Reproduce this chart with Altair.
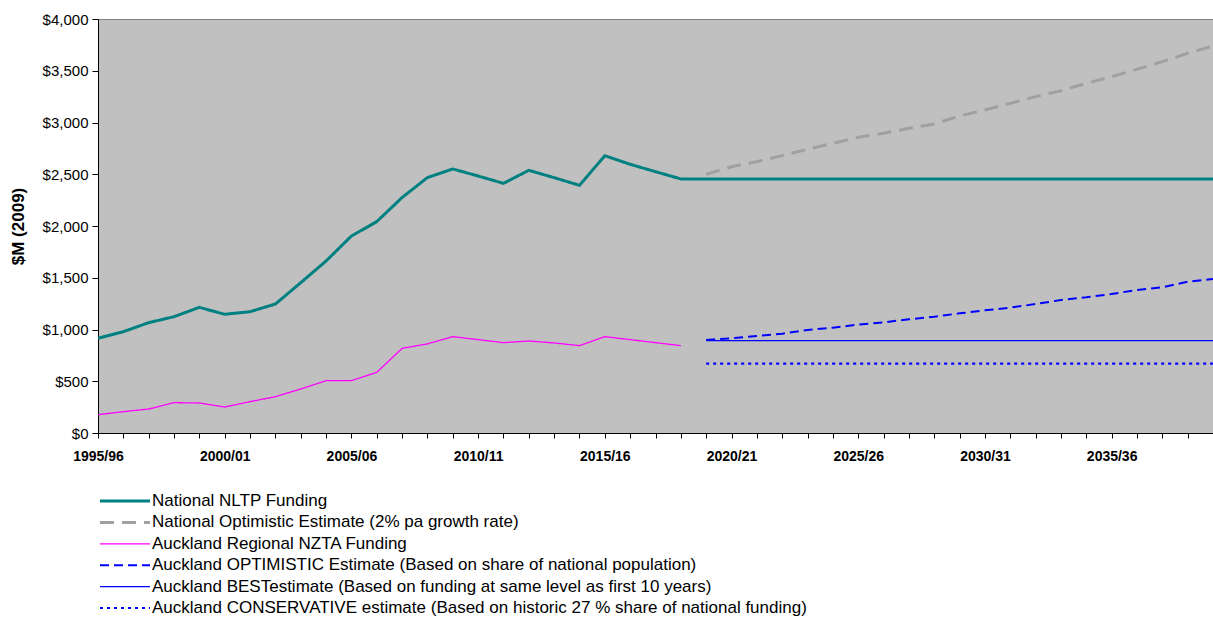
import altair as alt
import pandas as pd

# ---- categories ----
start_years = list(range(1995, 2040))
year_labels = [f"{y}/{(y + 1) % 100:02d}" for y in start_years]
shown_labels = ["1995/96", "2000/01", "2005/06", "2010/11", "2015/16",
                "2020/21", "2025/26", "2030/31", "2035/36"]

series_names = [
    "National NLTP Funding",
    "National Optimistic Estimate (2% pa growth rate)",
    "Auckland Regional NZTA Funding",
    "Auckland OPTIMISTIC Estimate (Based on share of national population)",
    "Auckland BESTestimate (Based on funding at same level as first 10 years)",
    "Auckland CONSERVATIVE estimate (Based on historic 27 % share of national funding)",
]

# ---- series values ($M 2009) ----
# National NLTP: 1995/96 .. 2039/40
national_nltp = [915, 979, 1066, 1124, 1214, 1147, 1172, 1246, 1452, 1662,
                 1903, 2042, 2275, 2468, 2551, 2483, 2412, 2538, 2467, 2393,
                 2679, 2596, 2525, 2455, 2455, 2455, 2455, 2455, 2455, 2455,
                 2455, 2455, 2455, 2455, 2455, 2455, 2455, 2455, 2455, 2455,
                 2455, 2455, 2455, 2455, 2455]
# National optimistic: 2019/20 .. 2039/40
national_optimistic = [2500, 2573, 2622, 2680, 2741, 2799, 2857, 2896, 2944,
                       2986, 3063, 3121, 3185, 3250, 3307, 3378, 3443, 3514,
                       3588, 3668, 3740]
# Auckland regional: 1995/96 .. 2018/19
auckland_regional = [177, 206, 232, 293, 290, 251, 303, 351, 425, 506,
                     506, 586, 818, 861, 931, 902, 873, 889, 870, 844,
                     931, 902, 873, 844]
# Auckland projections: 2019/20 .. 2039/40
auckland_optimistic = [899, 915, 937, 960, 995, 1018, 1047, 1069, 1098, 1124,
                       1156, 1185, 1211, 1246, 1285, 1311, 1343, 1382, 1408,
                       1462, 1488]
auckland_best = [892, 892, 892, 892, 892, 892, 892, 892, 892, 892, 892,
                 892, 892, 892, 892, 892, 892, 892, 892, 892, 892]
auckland_conservative = [670, 670, 670, 670, 670, 670, 670, 670, 670, 670, 670,
                         670, 670, 670, 670, 670, 670, 670, 670, 670, 670]

series_data = [
    (series_names[0], 0, national_nltp),
    (series_names[1], 24, national_optimistic),
    (series_names[2], 0, auckland_regional),
    (series_names[3], 24, auckland_optimistic),
    (series_names[4], 24, auckland_best),
    (series_names[5], 24, auckland_conservative),
]

rows = []
for name, offset, vals in series_data:
    for i, v in enumerate(vals):
        rows.append({"series": name, "year": year_labels[offset + i],
                     "order": offset + i, "value": v})
df = pd.DataFrame(rows)
legend_df = pd.DataFrame({"series": series_names, "row": list(range(len(series_names)))})

colors = ["#008080", "#A0A0A0", "#FF00FF", "#0000FF", "#0000FF", "#0000FF"]
widths = [3, 3, 1.3, 2, 1.3, 2.2]
dashes = [[1, 0], [14, 8], [1, 0], [9, 5], [1, 0], [3, 4]]

label_expr = "indexof(" + str(shown_labels) + ", datum.value) >= 0 ? datum.value : ''"

x_axis = alt.Axis(title=None, labelExpr=label_expr, labelAngle=0,
                  labelFont="Liberation Sans", labelFontWeight="bold",
                  labelFontSize=14, labelColor="black", labelPadding=11,
                  tickSize=5, tickColor="black", domainColor="black",
                  labelOverlap=False, labelBaseline="top")
x_scale = alt.Scale(type="point", domain=year_labels, padding=0)

y_axis = alt.Axis(title="$M (2009)", values=list(range(0, 4001, 500)),
                  format="$,.0f", labelFont="Liberation Sans",
                  labelFontSize=15, labelColor="black", labelPadding=4,
                  tickSize=6, tickColor="black", domainColor="black",
                  grid=False, titleFont="Liberation Sans",
                  titleFontSize=17, titleFontWeight="bold",
                  titleColor="black", titleAngle=270, titleX=-80,
                  titleY=207, titleAlign="center", titleBaseline="middle")

legend_scale = alt.Scale(domain=[0, 5], range=[482, 589])

layers = []
for k, name in enumerate(series_names):
    y_enc = alt.Y("value:Q", scale=alt.Scale(domain=[0, 4000], nice=False),
                  axis=y_axis if k == 0 else None)
    line = alt.Chart(df).transform_filter(
        alt.datum.series == name
    ).mark_line(
        color=colors[k], strokeWidth=widths[k], strokeDash=dashes[k], clip=False
    ).encode(
        x=alt.X("year:O", sort=year_labels, scale=x_scale, axis=x_axis),
        y=y_enc, order="order:Q",
    )
    layers.append(line)

for k, name in enumerate(series_names):
    sym = alt.Chart(legend_df).transform_filter(
        alt.datum.series == name
    ).mark_rule(
        color=colors[k], strokeWidth=widths[k], strokeDash=dashes[k]
    ).encode(
        x=alt.value(2), x2=alt.value(52),
        y=alt.Y("row:Q", scale=legend_scale, axis=None),
    )
    layers.append(sym)

legend_text = alt.Chart(legend_df).mark_text(
    align="left", baseline="middle", font="Liberation Sans", fontSize=17,
    color="black"
).encode(
    x=alt.value(54),
    y=alt.Y("row:Q", scale=legend_scale, axis=None),
    text="series:N",
)
layers.append(legend_text)

chart = alt.layer(*layers).resolve_scale(
    y="independent"
).properties(
    width=1115, height=414,
    autosize=alt.AutoSizeParams(type="none"),
    padding={"left": 98, "top": 19, "right": 0, "bottom": 189},
    background="white",
).configure_view(
    fill="#C0C0C0", stroke="#808080", strokeWidth=1,
).configure_axis(grid=False)

chart.save("out.html", embed_options={"renderer": "svg", "actions": False})
